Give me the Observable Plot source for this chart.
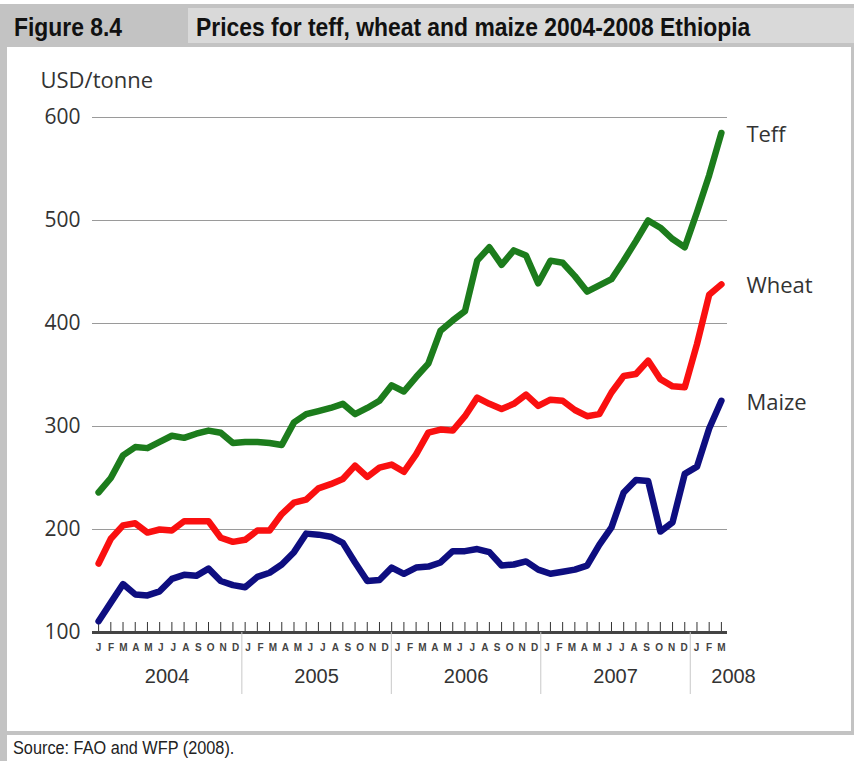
<!DOCTYPE html>
<html>
<head>
<meta charset="utf-8">
<script src="https://cdn.jsdelivr.net/npm/d3@7"></script>
<script src="https://cdn.jsdelivr.net/npm/@observablehq/plot@0.6"></script>
<style>
  body { margin: 0; background: #fff; }
  #fig { position: relative; width: 854px; height: 761px; overflow: hidden; background: #fff; }
  .band { position: absolute; left: 0; top: 4px; width: 854px; height: 43px; background: #c3c3c3; }
  .tbox { position: absolute; left: 188px; top: 8px; width: 666px; height: 35px; background: #d9d9d9; }
  .hdr { position: absolute; top: 15px; font-family: "Liberation Sans", Arial, sans-serif; font-weight: bold;
         font-size: 25px; line-height: 25px; color: #111; white-space: nowrap;
         transform: scaleX(0.915); transform-origin: left center; }
  #chart { position: absolute; left: 0; top: 47px; }
  .lborder { position: absolute; left: 0; top: 47px; width: 7px; height: 714px; background: #c3c3c3; }
  .rborder { position: absolute; left: 851px; top: 47px; width: 3px; height: 688px; background: #c3c3c3; }
  .bbar { position: absolute; left: 0; top: 731px; width: 854px; height: 4px; background: #c3c3c3; }
  .src { position: absolute; left: 13px; top: 740px; font-family: "Liberation Sans", Arial, sans-serif;
         font-size: 17.5px; line-height: 17px; color: #222; white-space: nowrap;
         transform: scaleX(0.93); transform-origin: left center; }
</style>
</head>
<body>
<div id="fig">
  <div class="band"></div>
  <div class="tbox"></div>
  <div class="hdr" style="left:14px">Figure 8.4</div>
  <div class="hdr" style="left:196px">Prices for teff, wheat and maize 2004-2008 Ethiopia</div>
  <div id="chart"></div>
  <div class="lborder"></div>
  <div class="rborder"></div>
  <div class="bbar"></div>
  <div class="src">Source: FAO and WFP (2008).</div>
</div>
<script>
// ---- data (USD/tonne, monthly from January 2004) ----
const seriesNames = ["Teff", "Wheat", "Maize"];
const teff  = [236,250,272,280,279,285,291,289,293,296,294,284,285,285,284,282,304,312,315,318,322,312,318,325,340,334,348,361,393,403,412,461,474,457,471,466,439,461,459,446,431,437,443,461,480,500,493,482,474,508,544,585];
const wheat = [167,191,204,206,197,200,199,208,208,208,192,188,190,199,199,215,226,229,240,244,249,262,251,260,263,256,273,294,297,296,310,328,322,317,322,331,320,326,325,316,310,312,333,349,351,364,346,339,338,380,428,438];
const maize = [111,129,147,137,136,140,152,156,155,162,150,146,144,154,158,166,178,196,195,193,187,168,150,151,163,157,163,164,168,179,179,181,178,165,166,169,161,157,159,161,165,185,202,236,248,247,198,207,254,261,298,325];
const monthLabels = ["J","F","M","A","M","J","J","A","S","O","N","D",
                     "J","F","M","A","M","J","J","A","S","O","N","D",
                     "J","F","M","A","M","J","J","A","S","O","N","D",
                     "J","F","M","A","M","J","J","A","S","O","N","D",
                     "J","F","M"];
const yearLabels = ["2004", "2005", "2006", "2007", "2008"];
const yTicks = [100, 200, 300, 400, 500, 600];
const seriesColors = ["#1c7c1c", "#fa1010", "#0e0e80"];

// ---- derived tables ----
const values = [teff, wheat, maize];
const rows = seriesNames.flatMap((s, k) => values[k].map((v, i) => ({series: s, i, value: v})));
const idx = teff.map((_, i) => i);
const step = (teff.length - 1) / (monthLabels.length - 1);
const separators = [11.5, 23.5, 35.5, 47.5].map(m => m * step);

const font = "'Open Sans', 'Noto Sans', sans-serif";
const arial = "'Liberation Sans', Arial, sans-serif";

const chart = Plot.plot({
  width: 854,
  height: 684,
  marginLeft: 92,
  marginRight: 127,
  marginTop: 70,
  marginBottom: 99,
  x: {domain: [-0.5, teff.length - 0.5], axis: null},
  y: {domain: [100, 600], axis: null},
  color: {domain: seriesNames, range: seriesColors},
  style: {fontFamily: font, background: "transparent", overflow: "visible"},
  marks: [
    Plot.ruleY(yTicks.slice(1), {stroke: "#9a9a9a", strokeWidth: 1.2}),
    Plot.axisY(yTicks, {anchor: "left", tickSize: 0, tickPadding: 12, fontSize: 21, fill: "#333", label: null, fontFamily: font}),
    Plot.ruleX(idx, {x: d => d, insetTop: 505, stroke: "#333", strokeWidth: 1}),
    Plot.ruleY([100], {stroke: "#444", strokeWidth: 3}),
    Plot.line(rows, {x: "i", y: "value", z: "series", stroke: "series", strokeWidth: 6.5,
                     strokeLinejoin: "round", strokeLinecap: "round"}),
    Plot.text(rows, Plot.selectLast({x: "i", y: "value", z: "series", text: "series", dx: 25, dy: 2,
                     textAnchor: "start", fontSize: 22, fill: "#333", fontFamily: font})),
    Plot.text(monthLabels, {x: (d, j) => j * step, frameAnchor: "bottom", dy: 15, lineAnchor: "middle",
                     fontSize: 10, fontWeight: "bold", fontFamily: arial, fill: "#444"}),
    Plot.axisX(separators, {anchor: "bottom", tickSize: 62, tickFormat: () => "", stroke: "#c8c8c8", label: null}),
    Plot.text(yearLabels.slice(0, 4), {x: (d, k) => (12 * k + 5.5) * step, frameAnchor: "bottom", dy: 44,
                     lineAnchor: "middle", fontSize: 20, fontFamily: arial, fill: "#333"}),
    Plot.text(yearLabels.slice(4), {x: () => separators[3], frameAnchor: "bottom", dy: 44, dx: 21,
                     textAnchor: "start", lineAnchor: "middle", fontSize: 20, fontFamily: arial, fill: "#333"}),
    Plot.text(["USD/tonne"], {frameAnchor: "top-left", dx: -52, dy: -37, textAnchor: "start",
                     lineAnchor: "middle", fontSize: 22, fill: "#333", fontFamily: font})
  ]
});
document.getElementById("chart").appendChild(chart);
</script>
</body>
</html>
